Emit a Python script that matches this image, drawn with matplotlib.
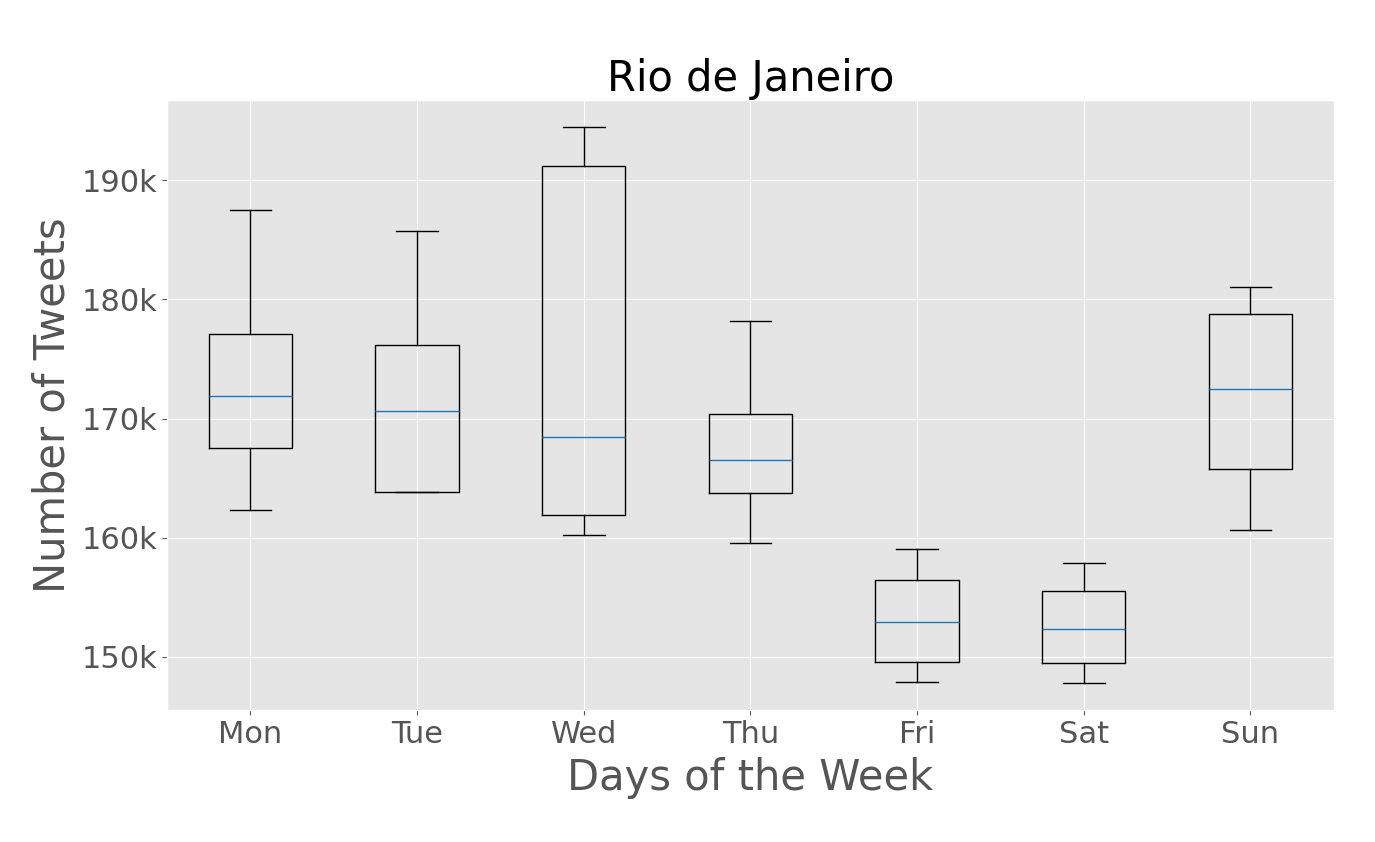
import matplotlib
matplotlib.use("Agg")
import matplotlib.pyplot as plt
from matplotlib.ticker import FuncFormatter

plt.style.use("ggplot")

days = ["Mon", "Tue", "Wed", "Thu", "Fri", "Sat", "Sun"]
whislo = [162350, 163870, 160250, 159580, 147900, 147820, 160670]
q1 = [167560, 163870, 161930, 163780, 149580, 149500, 165800]
med = [171850, 170670, 168490, 166550, 152940, 152350, 172440]
q3 = [177100, 176200, 191180, 170420, 156470, 155550, 178740]
whishi = [187500, 185700, 194450, 178150, 159080, 157900, 181000]

stats = []
for i, d in enumerate(days):
    stats.append(dict(label=d, whislo=whislo[i], q1=q1[i], med=med[i],
                      q3=q3[i], whishi=whishi[i], fliers=[]))

fig = plt.figure(figsize=(13.75, 8.42), dpi=100)
ax = fig.add_axes([0.1215, 0.157, 0.8485, 0.724])
ax.bxp(stats, showfliers=False,
       boxprops=dict(color="black"),
       whiskerprops=dict(color="black"),
       capprops=dict(color="black"),
       medianprops=dict(color="#1f77b4"))
ax.set_ylim(145550, 196720)
ax.set_xlim(0.5, 7.5)
ax.yaxis.set_major_formatter(FuncFormatter(lambda v, p: f"{int(round(v/1000))}k"))
ax.set_title("Rio de Janeiro", fontsize=30, color="black")
ax.set_xlabel("Days of the Week", fontsize=30, color="#555555", labelpad=6)
ax.set_ylabel("Number of Tweets", fontsize=30, color="#555555", labelpad=6)
ax.tick_params(axis="both", labelsize=22, colors="#555555")
fig.savefig("out.png", dpi=100)
